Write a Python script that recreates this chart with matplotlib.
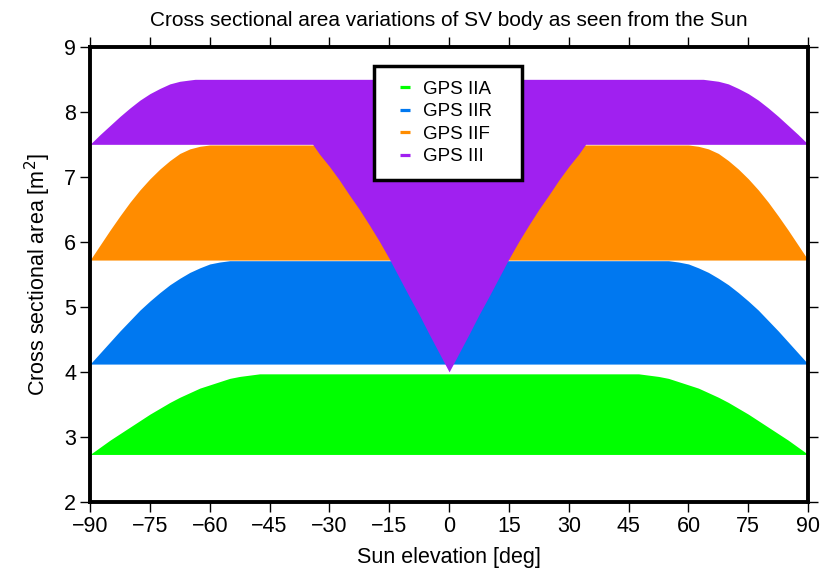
import matplotlib
matplotlib.use("Agg")
import matplotlib.pyplot as plt
from matplotlib.lines import Line2D

plt.rcParams['font.family'] = ['Liberation Sans', 'DejaVu Sans']

# ---- data ----
# GPS IIA
iia_elev = [-90, -87.5, -85, -82.5, -80, -77.5, -75, -72.5, -70, -67.5, -65, -62.5, -60, -57.5, -55, -52.5, -50, -47.5, -45,
            45, 47.5, 50, 52.5, 55, 57.5, 60, 62.5, 65, 67.5, 70, 72.5, 75, 77.5, 80, 82.5, 85, 87.5, 90]
iia_top = [2.73, 2.84, 2.95, 3.05, 3.15, 3.25, 3.35, 3.44, 3.53, 3.61, 3.68, 3.75, 3.80, 3.85, 3.90, 3.93, 3.95, 3.97, 3.97,
           3.97, 3.97, 3.95, 3.93, 3.90, 3.85, 3.80, 3.75, 3.68, 3.61, 3.53, 3.44, 3.35, 3.25, 3.15, 3.05, 2.95, 2.84, 2.73]
iia_base = 2.73

# GPS IIR
iir_elev = [-90, -87.5, -85, -82.5, -80, -77.5, -75, -72.5, -70, -67.5, -65, -62.5, -60, -57.5, -55,
            55, 57.5, 60, 62.5, 65, 67.5, 70, 72.5, 75, 77.5, 80, 82.5, 85, 87.5, 90]
iir_top = [4.12, 4.29, 4.46, 4.63, 4.79, 4.95, 5.09, 5.22, 5.34, 5.44, 5.53, 5.60, 5.66, 5.69, 5.71,
           5.71, 5.69, 5.66, 5.60, 5.53, 5.44, 5.34, 5.22, 5.09, 4.95, 4.79, 4.63, 4.46, 4.29, 4.12]
iir_base = 4.12

# GPS IIF
iif_elev = [-90, -87.5, -85, -82.5, -80, -77.5, -75, -72.5, -70, -67.5, -65, -62.5, -60,
            60, 62.5, 65, 67.5, 70, 72.5, 75, 77.5, 80, 82.5, 85, 87.5, 90]
iif_top = [5.72, 5.95, 6.18, 6.40, 6.61, 6.80, 6.97, 7.12, 7.25, 7.36, 7.43, 7.47, 7.49,
           7.49, 7.47, 7.43, 7.36, 7.25, 7.12, 6.97, 6.80, 6.61, 6.40, 6.18, 5.95, 5.72]
iif_base = 5.72

# GPS III
iii_elev = [-90, -87.5, -85, -82.5, -80, -77.5, -75, -72.5, -70, -67.5, -65, -63.7,
            -34.2, -32.5, -30, -27.5, -25, -22.5, -20, -17.5, -15, -12.5, -10, -7.5, -5, -2.5, 0,
            2.5, 5, 7.5, 10, 12.5, 15, 17.5, 20, 22.5, 25, 27.5, 30, 32.5, 34.2,
            63.7, 65, 67.5, 70, 72.5, 75, 77.5, 80, 82.5, 85, 87.5, 90]
iii_top = [7.50, 7.65, 7.79, 7.93, 8.06, 8.18, 8.28, 8.36, 8.43, 8.47, 8.49, 8.50,
           8.50, 8.50, 8.50, 8.50, 8.50, 8.50, 8.50, 8.50, 8.50, 8.50, 8.50, 8.50, 8.50, 8.50, 8.50,
           8.50, 8.50, 8.50, 8.50, 8.50, 8.50, 8.50, 8.50, 8.50, 8.50, 8.50, 8.50, 8.50, 8.50,
           8.50, 8.49, 8.47, 8.43, 8.36, 8.28, 8.18, 8.06, 7.93, 7.79, 7.65, 7.50]
iii_low = [7.50, 7.50, 7.50, 7.50, 7.50, 7.50, 7.50, 7.50, 7.50, 7.50, 7.50, 7.50,
           7.50, 7.35, 7.16, 6.95, 6.72, 6.50, 6.26, 6.01, 5.74, 5.45, 5.16, 4.88, 4.58, 4.29, 4.00,
           4.29, 4.58, 4.88, 5.16, 5.45, 5.74, 6.01, 6.26, 6.50, 6.72, 6.95, 7.16, 7.35, 7.50,
           7.50, 7.50, 7.50, 7.50, 7.50, 7.50, 7.50, 7.50, 7.50, 7.50, 7.50, 7.50]

labels = ['GPS IIA', 'GPS IIR', 'GPS IIF', 'GPS III']
colors = ['#00FF00', '#0078F0', '#FF8C00', '#A020F0']
xticks = [-90, -75, -60, -45, -30, -15, 0, 15, 30, 45, 60, 75, 90]
yticks = [2, 3, 4, 5, 6, 7, 8, 9]

fig = plt.figure(figsize=(8.34, 5.71), dpi=100)
ax = fig.add_axes([0.108, 0.121, 0.861, 0.797])

ax.fill_between(iia_elev, iia_base, iia_top, color=colors[0], lw=0)
ax.fill_between(iir_elev, iir_base, iir_top, color=colors[1], lw=0)
ax.fill_between(iif_elev, iif_base, iif_top, color=colors[2], lw=0)
ax.fill_between(iii_elev, iii_low, iii_top, color=colors[3], lw=0)

ax.set_xlim(-90, 90)
ax.set_ylim(2, 9)
ax.set_xticks(xticks)
ax.set_yticks(yticks)
ax.tick_params(direction='out', length=7, width=1.0, labelsize=15.5, pad=3,
               top=True, right=True, labeltop=False, labelright=False)
for s in ax.spines.values():
    s.set_linewidth(2.8)
    s.set_zorder(5)

ax.set_xlabel('Sun elevation [deg]', fontsize=15.5, labelpad=7)
ax.set_ylabel('Cross sectional area [m$^2$]', fontsize=15.5, labelpad=8)
ax.set_title('Cross sectional area variations of SV body as seen from the Sun', fontsize=15, pad=15)

handles = [Line2D([], [], color=c, marker='_', markersize=7.5, markeredgewidth=2.3, linestyle='None')
           for c in colors]
leg = ax.legend(handles, labels, loc='upper left', bbox_to_anchor=(0.3955, 0.0, 0.206, 0.958),
                mode='expand', fontsize=13.5, handlelength=1.7, handletextpad=0.1, borderpad=0.8,
                labelspacing=0.28, fancybox=False, framealpha=1, borderaxespad=0)
leg.get_frame().set_edgecolor('black')
leg.get_frame().set_linewidth(2.5)

fig.savefig('out.png', dpi=100)
